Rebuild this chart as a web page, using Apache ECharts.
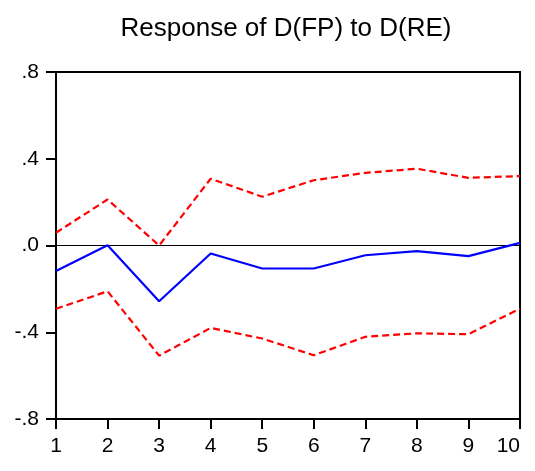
<!DOCTYPE html>
<html>
<head>
<meta charset="utf-8">
<script src="https://cdn.jsdelivr.net/npm/echarts@6/dist/echarts.min.js"></script>
<style>
  html, body { margin: 0; padding: 0; background: #fff; }
  #chart { width: 535px; height: 471px; }
</style>
</head>
<body>
<div id="chart"></div>
<script>
// Impulse response periods
const periods = [1, 2, 3, 4, 5, 6, 7, 8, 9, 10];
// Point response of D(FP) to a shock in D(RE)
const response = [-0.118, 0.001, -0.257, -0.037, -0.106, -0.106, -0.045, -0.026, -0.049, 0.012];
// Upper and lower +/- 2 S.E. bands
const upperBand = [0.059, 0.212, 0.000, 0.308, 0.225, 0.301, 0.335, 0.354, 0.312, 0.320];
const lowerBand = [-0.292, -0.211, -0.508, -0.380, -0.429, -0.506, -0.421, -0.405, -0.409, -0.291];
// Y-axis tick values
const yTicks = [-0.8, -0.4, 0, 0.4, 0.8];

const pairs = (vals) => periods.map((p, i) => [p, vals[i]]);

function fmtY(v) {
  const r = Math.round(v * 10) / 10;
  if (r === 0) return '.0';
  const s = Math.abs(r).toFixed(1).replace(/^0/, '');
  return (r < 0 ? '-' : '') + s;
}

const chart = echarts.init(document.getElementById('chart'), null, { renderer: 'canvas' });
const font = '"Liberation Sans", Arial, sans-serif';

chart.setOption({
  animation: false,
  backgroundColor: '#ffffff',
  textStyle: { fontFamily: font },
  title: {
    text: 'Response of D(FP) to D(RE)',
    left: 281,
    textAlign: 'center',
    top: 11,
    textStyle: { fontFamily: font, fontSize: 26, fontWeight: 'normal', color: '#000' }
  },
  grid: {
    left: 56, right: 15, top: 72, bottom: 52,
    outerBoundsMode: 'none',
    show: true, borderColor: '#000', borderWidth: 2, backgroundColor: 'transparent'
  },
  xAxis: {
    type: 'value',
    min: 1, max: 10, interval: 1,
    axisLine: { show: true, onZero: false, lineStyle: { color: '#000', width: 2 } },
    axisTick: { show: true, inside: false, length: 10, lineStyle: { color: '#000', width: 2 } },
    axisLabel: {
      fontFamily: font, fontSize: 21, color: '#000', margin: 17,
      hideOverlap: false, alignMaxLabel: 'right'
    },
    splitLine: { show: false }
  },
  yAxis: {
    type: 'value',
    min: yTicks[0], max: yTicks[yTicks.length - 1], interval: 0.4,
    axisLine: { show: true, onZero: false, lineStyle: { color: '#000', width: 2 } },
    axisTick: { show: true, inside: false, length: 10, lineStyle: { color: '#000', width: 2 } },
    axisLabel: { fontFamily: font, fontSize: 21, color: '#000', margin: 17, formatter: fmtY, hideOverlap: false },
    splitLine: { show: false }
  },
  series: [
    {
      name: 'Upper',
      type: 'line',
      data: pairs(upperBand),
      symbol: 'none',
      lineStyle: { color: '#ff0000', width: 2.2, type: [7, 4] },
      z: 3
    },
    {
      name: 'Lower',
      type: 'line',
      data: pairs(lowerBand),
      symbol: 'none',
      lineStyle: { color: '#ff0000', width: 2.2, type: [7, 4] },
      z: 3
    },
    {
      name: 'Response',
      type: 'line',
      data: pairs(response),
      symbol: 'none',
      lineStyle: { color: '#0000ff', width: 2.2 },
      z: 4,
      markLine: {
        silent: true,
        symbol: ['none', 'none'],
        label: { show: false },
        lineStyle: { color: '#000', width: 1, type: 'solid' },
        data: [{ yAxis: 0 }],
        z: 2
      }
    }
  ]
});
</script>
</body>
</html>
